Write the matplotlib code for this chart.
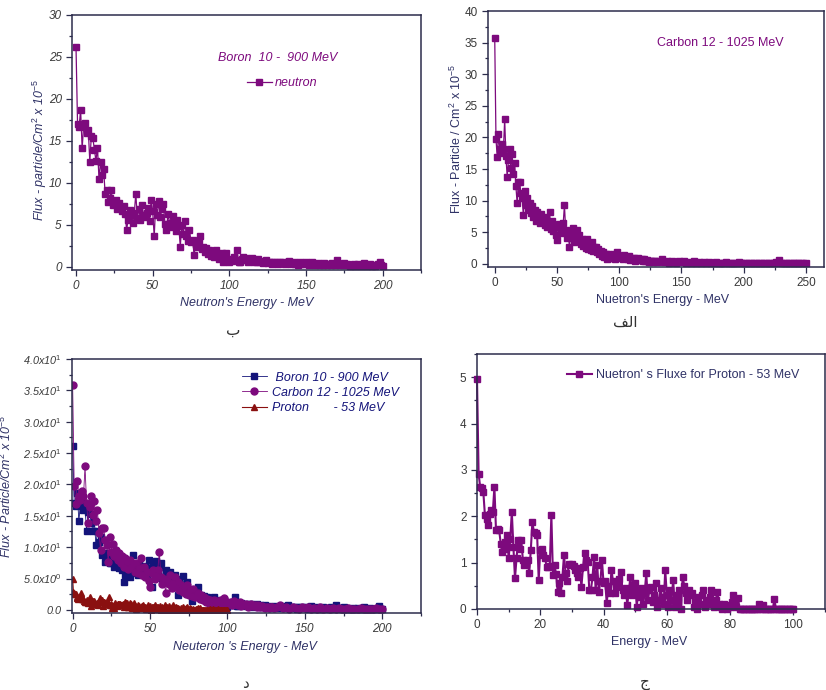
import numpy as np
import matplotlib
matplotlib.use("Agg")
import matplotlib.pyplot as plt
from matplotlib.ticker import MultipleLocator, FixedLocator, FixedFormatter

plt.rcParams['font.family'] = ['Liberation Sans', 'DejaVu Sans']
plt.rcParams['mathtext.fontset'] = 'custom'
plt.rcParams['mathtext.rm'] = 'Liberation Sans'
plt.rcParams['mathtext.it'] = 'Liberation Sans:italic'

# ---- data ----
# Boron 10 - 900 MeV, 1 MeV bins from 0 to 200
boron_energy = np.arange(0, 201)
boron_flux = [
    26.2, 17.0, 16.6, 18.7, 14.1, 16.8, 17.1, 15.9, 16.3, 12.5,
    15.6, 15.3, 13.9, 12.6, 14.2, 10.4, 12.5, 10.9, 11.6, 8.7,
    9.1, 7.7, 8.2, 9.1, 7.4, 7.5, 8.0, 6.9, 7.6, 7.1,
    6.6, 7.2, 6.3, 4.4, 5.6, 6.8, 6.1, 5.2, 6.4, 8.7,
    5.8, 6.9, 5.6, 7.3, 6.2, 5.9, 6.4, 7.0, 5.4, 7.9,
    6.6, 3.6, 7.5, 6.2, 7.8, 5.9, 6.9, 7.5, 5.1, 4.4,
    6.3, 5.2, 4.7, 6.0, 4.9, 4.3, 5.6, 4.8, 2.4, 5.0,
    3.9, 5.4, 3.6, 3.1, 4.4, 2.9, 3.2, 1.4, 2.7, 2.3,
    2.9, 3.6, 2.1, 2.4, 1.8, 2.2, 1.5, 2.0, 1.3, 1.7,
    1.1, 2.0, 1.4, 0.9, 1.2, 1.6, 0.6, 1.0, 1.6, 0.8,
    0.5, 0.9, 0.7, 1.2, 0.8, 2.0, 0.6, 0.6, 0.9, 1.1,
    0.8, 1.0, 0.6, 0.7, 0.9, 1.0, 0.5, 0.8, 0.6, 0.9,
    0.5, 0.7, 0.4, 0.6, 0.8, 0.4, 0.5, 0.6, 0.3, 0.5,
    0.4, 0.6, 0.3, 0.5, 0.4, 0.6, 0.3, 0.4, 0.5, 0.7,
    0.3, 0.4, 0.5, 0.3, 0.4, 0.2, 0.5, 0.3, 0.4, 0.3,
    0.5, 0.3, 0.2, 0.4, 0.6, 0.3, 0.2, 0.3, 0.4, 0.2,
    0.3, 0.2, 0.4, 0.3, 0.2, 0.3, 0.2, 0.4, 0.3, 0.2,
    0.8, 0.3, 0.2, 0.3, 0.2, 0.4, 0.2, 0.3, 0.2, 0.1,
    0.2, 0.3, 0.1, 0.2, 0.3, 0.2, 0.1, 0.2, 0.4, 0.2,
    0.1, 0.2, 0.3, 0.1, 0.2, 0.1, 0.2, 0.3, 0.6, 0.2,
    0.1,
]

# Carbon 12 - 1025 MeV, 1 MeV bins to 129 then 2 MeV bins to 250
carbon_energy = np.concatenate([np.arange(0, 130), np.arange(130, 251, 2)])
carbon_flux = [
    35.8, 19.8, 16.9, 20.6, 18.2, 17.5, 19.0, 18.1, 22.9, 17.0,
    13.8, 16.4, 18.2, 15.1, 17.4, 14.2, 15.9, 12.3, 9.6, 13.0,
    13.0, 11.2, 10.4, 7.7, 11.6, 9.3, 10.5, 8.6, 9.6, 8.0,
    9.1, 7.4, 8.6, 6.8, 8.2, 7.6, 6.5, 7.9, 6.9, 7.3,
    6.1, 7.4, 5.9, 6.6, 8.2, 5.5, 6.8, 5.2, 6.0, 4.6,
    3.7, 5.8, 6.3, 4.9, 5.5, 6.4, 9.3, 5.3, 4.1, 5.0,
    2.7, 4.8, 4.2, 5.6, 3.5, 4.3, 5.3, 3.6, 4.5, 3.2,
    3.9, 2.8, 3.6, 2.5, 3.9, 2.4, 3.1, 2.2, 3.4, 2.0,
    2.6, 2.7, 1.8, 2.4, 1.5, 2.1, 1.3, 1.8, 1.1, 1.6,
    0.8, 1.5, 1.2, 0.9, 1.4, 1.0, 1.6, 0.7, 1.9, 1.1,
    1.3, 0.9, 1.2, 0.7, 1.4, 1.0, 1.1, 0.8, 1.2, 0.6,
    1.0, 0.7, 0.9, 0.5, 0.8, 1.0, 0.6, 0.6, 0.8, 0.5,
    0.7, 0.4, 0.6, 0.5, 0.3, 0.5, 0.4, 0.3, 0.5, 0.4,
    0.3, 0.4, 0.8, 0.3, 0.5, 0.2, 0.4, 0.3, 0.2, 0.4,
    0.3, 0.5, 0.2, 0.3, 0.2, 0.4, 0.2, 0.3, 0.2, 0.3,
    0.2, 0.3, 0.2, 0.1, 0.3, 0.2, 0.2, 0.1, 0.3, 0.2,
    0.2, 0.1, 0.2, 0.3, 0.1, 0.2, 0.2, 0.1, 0.2, 0.1,
    0.2, 0.1, 0.2, 0.2, 0.1, 0.2, 0.1, 0.2, 0.3, 0.6,
    0.2, 0.1, 0.2, 0.1, 0.2, 0.1, 0.1, 0.2, 0.1, 0.2, 0.1,
]

# Proton - 53 MeV, 0.5 MeV bins from 0 to 100
proton_energy = np.arange(0, 100.5, 0.5)
proton_flux = [
    4.96, 2.92, 2.63, 2.60, 2.52, 2.02, 1.95, 1.81, 2.05, 2.13,
    2.10, 2.63, 1.70, 1.72, 1.70, 1.41, 1.23, 1.30, 1.45, 1.59,
    1.09, 1.50, 2.09, 1.34, 0.66, 1.10, 1.48, 1.30, 1.48, 1.05,
    0.95, 0.98, 1.05, 0.77, 1.27, 1.88, 1.65, 1.63, 1.60, 0.63,
    1.27, 1.30, 1.16, 1.10, 0.91, 0.90, 0.92, 2.02, 0.73, 0.95,
    0.75, 0.37, 0.55, 0.34, 0.70, 1.16, 0.77, 0.60, 0.98, 0.95,
    0.98, 0.92, 0.85, 0.77, 0.70, 0.88, 0.48, 0.90, 1.20, 1.05,
    1.02, 0.40, 0.41, 0.68, 1.13, 0.40, 0.95, 0.37, 0.60, 1.05,
    0.55, 0.60, 0.12, 0.50, 0.35, 0.84, 0.60, 0.35, 0.48, 0.55,
    0.65, 0.80, 0.40, 0.30, 0.45, 0.09, 0.40, 0.70, 0.30, 0.45,
    0.55, 0.05, 0.40, 0.25, 0.45, 0.10, 0.35, 0.77, 0.20, 0.40,
    0.48, 0.15, 0.30, 0.55, 0.05, 0.19, 0.45, 0.25, 0.10, 0.84,
    0.30, 0.05, 0.40, 0.20, 0.63, 0.05, 0.30, 0.15, 0.40, 0.00,
    0.70, 0.50, 0.35, 0.20, 0.41, 0.30, 0.35, 0.05, 0.15, 0.00,
    0.25, 0.10, 0.30, 0.41, 0.05, 0.20, 0.10, 0.25, 0.41, 0.15,
    0.05, 0.20, 0.37, 0.10, 0.05, 0.00, 0.10, 0.05, 0.00, 0.08,
    0.05, 0.15, 0.30, 0.10, 0.05, 0.23, 0.00, 0.00, 0.00, 0.00,
    0.00, 0.00, 0.00, 0.00, 0.00, 0.00, 0.00, 0.00, 0.10, 0.00,
    0.00, 0.09, 0.00, 0.00, 0.00, 0.00, 0.00, 0.00, 0.21, 0.00,
    0.00, 0.00, 0.00, 0.00, 0.00, 0.00, 0.00, 0.00, 0.00, 0.00,
    0.00,
]

combined_yticks = [0, 5, 10, 15, 20, 25, 30, 35, 40]
combined_ylabels = ['0.0', '5.0x10$^0$', '1.0x10$^1$', '1.5x10$^1$', '2.0x10$^1$',
                    '2.5x10$^1$', '3.0x10$^1$', '3.5x10$^1$', '4.0x10$^1$']

captions = ['\u0628', '\uFED2\uFEDF\uFE8D', '\u062F', '\u062C']  # ب  الف  د  ج

PURPLE = '#7d0a7d'
NAVY = '#14147a'
DARKRED = '#8a1010'
SPINE = '#2c2c4c'
LABEL = '#2f3266'
TICK = '#3a3a3a'
FS = 9


def style_axes(ax, italic, labelsize=8.5):
    style = 'italic' if italic else 'normal'
    for s in ['top', 'right', 'left', 'bottom']:
        ax.spines[s].set_color(SPINE)
        ax.spines[s].set_linewidth(1.1)
    ax.tick_params(which='both', direction='out', top=False, right=False,
                   color=SPINE, labelcolor=TICK, labelsize=labelsize, width=0.9)
    ax.tick_params(which='major', length=4)
    ax.tick_params(which='minor', length=2.5)
    for lab in ax.get_xticklabels() + ax.get_yticklabels():
        lab.set_fontstyle(style)


fig = plt.figure(figsize=(8.26, 6.9), dpi=100)

# ---- panel ب : Boron ----
ax1 = fig.add_axes([0.0872, 0.6087, 0.4225, 0.3696])
ax1.plot(boron_energy, boron_flux, '-s', color=PURPLE, lw=0.9, ms=4.6,
         label='neutron')
ax1.set_xlim(-2.6, 225)
ax1.set_ylim(-0.4, 30)
ax1.xaxis.set_major_locator(MultipleLocator(50))
ax1.xaxis.set_minor_locator(MultipleLocator(25))
ax1.yaxis.set_major_locator(MultipleLocator(5))
ax1.yaxis.set_minor_locator(MultipleLocator(2.5))
style_axes(ax1, True)
ax1.set_xlabel("Neutron's Energy - MeV", color=LABEL, fontsize=FS, style='italic')
ax1.set_ylabel('Flux - particle/Cm$^2$ x 10$^{-5}$', color=LABEL, fontsize=FS,
               style='italic')
ax1.xaxis.set_label_coords(0.5, -0.105)
ax1.yaxis.set_label_coords(-0.067, 0.47)
ax1.text(0.588, 0.83, 'Boron  10 -  900 MeV', transform=ax1.transAxes,
         ha='center', va='center', color=PURPLE, fontsize=FS, style='italic')
leg = ax1.legend(loc='center left', bbox_to_anchor=(0.5, 0.733), frameon=False,
                 borderpad=0, borderaxespad=0, handlelength=2.0, handletextpad=0.3,
                 prop={'style': 'italic', 'size': FS})
for t in leg.get_texts():
    t.set_color(PURPLE)

# ---- panel الف : Carbon ----
ax2 = fig.add_axes([0.5908, 0.6130, 0.4068, 0.3710])
ax2.plot(carbon_energy, carbon_flux, '-s', color=PURPLE, lw=0.9, ms=4.6)
ax2.set_xlim(-5.4, 264.5)
ax2.set_ylim(-0.5, 40)
ax2.xaxis.set_major_locator(MultipleLocator(50))
ax2.xaxis.set_minor_locator(MultipleLocator(25))
ax2.yaxis.set_major_locator(MultipleLocator(5))
ax2.yaxis.set_minor_locator(MultipleLocator(2.5))
style_axes(ax2, False)
ax2.set_xlabel("Nuetron's Energy - MeV", color=LABEL, fontsize=FS)
ax2.set_ylabel('Flux - Particle / Cm$^2$ x 10$^{-5}$', color=LABEL, fontsize=FS)
ax2.xaxis.set_label_coords(0.52, -0.105)
ax2.yaxis.set_label_coords(-0.07, 0.5)
ax2.text(0.69, 0.875, 'Carbon 12 - 1025 MeV', transform=ax2.transAxes,
         ha='center', va='center', color=PURPLE, fontsize=FS)

# ---- panel د : combined ----
ax3 = fig.add_axes([0.0872, 0.1116, 0.4225, 0.3681])
ce = np.asarray(carbon_energy)
cf = np.asarray(carbon_flux)
keep = ce <= 200
ax3.plot(boron_energy, boron_flux, '-s', color=NAVY, lw=0.6, ms=4.4,
         label=' Boron 10 - 900 MeV')
ax3.plot(ce[keep], cf[keep], '-o', color=PURPLE, lw=0.6, ms=5.0,
         label='Carbon 12 - 1025 MeV')
ax3.plot(proton_energy, proton_flux, '-^', color=DARKRED, lw=0.8, ms=4.8,
         label='Proton       - 53 MeV')
ax3.set_xlim(-0.4, 225)
ax3.set_ylim(-0.5, 40)
ax3.xaxis.set_major_locator(MultipleLocator(50))
ax3.xaxis.set_minor_locator(MultipleLocator(25))
ax3.yaxis.set_major_locator(FixedLocator(combined_yticks))
ax3.yaxis.set_major_formatter(FixedFormatter(combined_ylabels))
ax3.yaxis.set_minor_locator(MultipleLocator(2.5))
style_axes(ax3, True, labelsize=7.8)
ax3.tick_params(axis='x', labelsize=8.5)
ax3.set_xlabel("Neuteron 's Energy - MeV", color=LABEL, fontsize=FS, style='italic')
ax3.set_ylabel('Flux - Particle/Cm$^2$ x 10$^{-5}$', color=LABEL, fontsize=FS,
               style='italic')
ax3.xaxis.set_label_coords(0.496, -0.11)
ax3.yaxis.set_label_coords(-0.165, 0.5)
leg3 = ax3.legend(loc='upper left', bbox_to_anchor=(0.487, 0.95), frameon=False,
                  borderpad=0, borderaxespad=0, handlelength=2.0, handletextpad=0.4,
                  labelspacing=0.25, prop={'style': 'italic', 'size': FS})
for t in leg3.get_texts():
    t.set_color(NAVY)

# ---- panel ج : Proton ----
ax4 = fig.add_axes([0.5775, 0.1174, 0.4213, 0.3696])
ax4.plot(proton_energy, proton_flux, '-s', color=PURPLE, lw=1.5, ms=4.4,
         clip_on=False, label="Nuetron' s Fluxe for Proton - 53 MeV")
ax4.set_xlim(0, 110)
ax4.set_ylim(0, 5.5)
ax4.xaxis.set_major_locator(MultipleLocator(20))
ax4.xaxis.set_minor_locator(MultipleLocator(10))
ax4.yaxis.set_major_locator(MultipleLocator(1))
ax4.yaxis.set_minor_locator(MultipleLocator(0.5))
style_axes(ax4, False)
ax4.set_xlabel('Energy - MeV', color=LABEL, fontsize=FS)
ax4.xaxis.set_label_coords(0.496, -0.105)
leg4 = ax4.legend(loc='center left', bbox_to_anchor=(0.258, 0.918), frameon=False,
                  borderpad=0, borderaxespad=0, handlelength=2.0, handletextpad=0.3,
                  prop={'size': FS})
for t in leg4.get_texts():
    t.set_color(LABEL)

# ---- Arabic captions ----
cap_pos = [(233, 330), (625, 322), (245, 683), (645, 682)]
for txt, (px, py) in zip(captions, cap_pos):
    fig.text(px / 826, 1 - py / 690, txt, ha='center', va='center',
             fontsize=11, color='#333333', family='DejaVu Sans')

fig.savefig('out.png', dpi=100)
